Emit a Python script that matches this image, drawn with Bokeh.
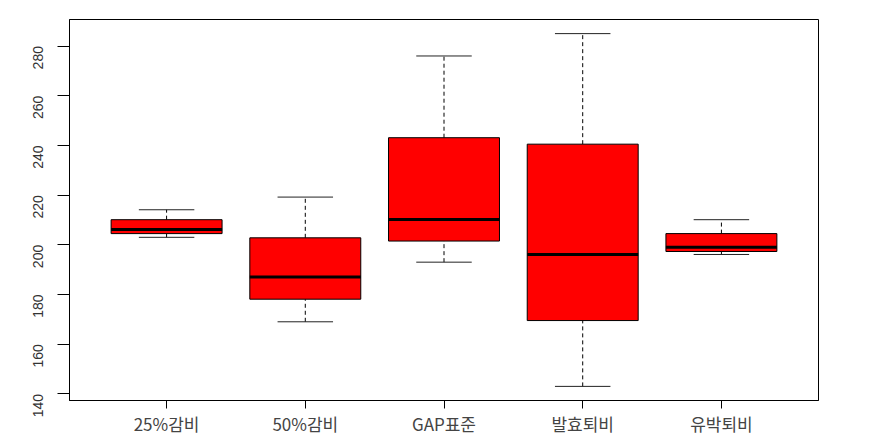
import math
from bokeh.plotting import figure
from bokeh.models import Range1d, FixedTicker, ColumnDataSource
from bokeh.embed import file_html
from bokeh.resources import INLINE

# ---- data ----
categories = ["25%감비", "50%감비", "GAP표준", "발효퇴비", "유박퇴비"]
whisker_low = [203.0, 169.0, 193.0, 143.0, 196.1]
q1 = [204.5, 178.1, 201.5, 169.5, 197.3]
median = [206.2, 187.0, 210.2, 196.1, 199.0]
q3 = [210.1, 202.8, 243.1, 240.5, 204.5]
whisker_high = [214.1, 219.2, 276.0, 285.0, 210.1]
y_ticks = [140, 160, 180, 200, 220, 240, 260, 280]

n = len(categories)
pos = list(range(1, n + 1))
box_w = 0.8
cap_w = 0.4

lo, hi = min(whisker_low), max(whisker_high)
ext = 0.04 * (hi - lo)
xext = 0.04 * n

p = figure(width=869, height=446, output_backend="svg", toolbar_location=None,
           x_range=Range1d(0.5 - xext, n + 0.5 + xext),
           y_range=Range1d(lo - ext, hi + ext),
           min_border_left=69, min_border_right=51,
           min_border_top=19, min_border_bottom=46)
p.grid.visible = False
p.background_fill_color = "white"
p.border_fill_color = "white"
p.outline_line_color = "black"
p.outline_line_width = 1

src = ColumnDataSource(dict(
    x=pos,
    left=[x - box_w / 2 for x in pos],
    right=[x + box_w / 2 for x in pos],
    cl=[x - cap_w / 2 for x in pos],
    cr=[x + cap_w / 2 for x in pos],
    wl=whisker_low, q1=q1, med=median, q3=q3, wh=whisker_high,
))

# whiskers (dashed)
p.segment(x0="x", y0="q3", x1="x", y1="wh", source=src, line_color="black",
          line_width=1, line_dash="4 3")
p.segment(x0="x", y0="wl", x1="x", y1="q1", source=src, line_color="black",
          line_width=1, line_dash="4 3")
# caps
p.segment(x0="cl", y0="wh", x1="cr", y1="wh", source=src, line_color="#222222", line_width=1)
p.segment(x0="cl", y0="wl", x1="cr", y1="wl", source=src, line_color="#222222", line_width=1)
# boxes
p.quad(left="left", right="right", bottom="q1", top="q3", source=src,
       fill_color="#ff0000", line_color="black", line_width=1)
# medians
p.segment(x0="left", y0="med", x1="right", y1="med", source=src,
          line_color="black", line_width=3)

# x axis
xa = p.xaxis[0]
xa.ticker = FixedTicker(ticks=pos)
xa.major_label_overrides = {i: c for i, c in zip(pos, categories)}
xa.major_tick_out = 8
xa.major_tick_in = 0
xa.minor_tick_line_color = None
xa.axis_line_color = "black"
xa.major_tick_line_color = "black"
xa.major_label_text_font = "Noto Sans CJK KR"
xa.major_label_text_font_size = "17px"
xa.major_label_text_color = "#444444"
xa.major_label_standoff = 2

# y axis
ya = p.yaxis[0]
ya.ticker = FixedTicker(ticks=y_ticks)
ya.major_label_orientation = math.pi / 2
ya.major_tick_out = 12
ya.major_tick_in = 0
ya.minor_tick_line_color = None
ya.axis_line_color = "black"
ya.major_tick_line_color = "black"
ya.major_label_text_font = "Liberation Sans"
ya.major_label_text_font_size = "14px"
ya.major_label_text_color = "#333333"
ya.major_label_standoff = 19

open("out.html", "w").write(file_html(p, INLINE))
